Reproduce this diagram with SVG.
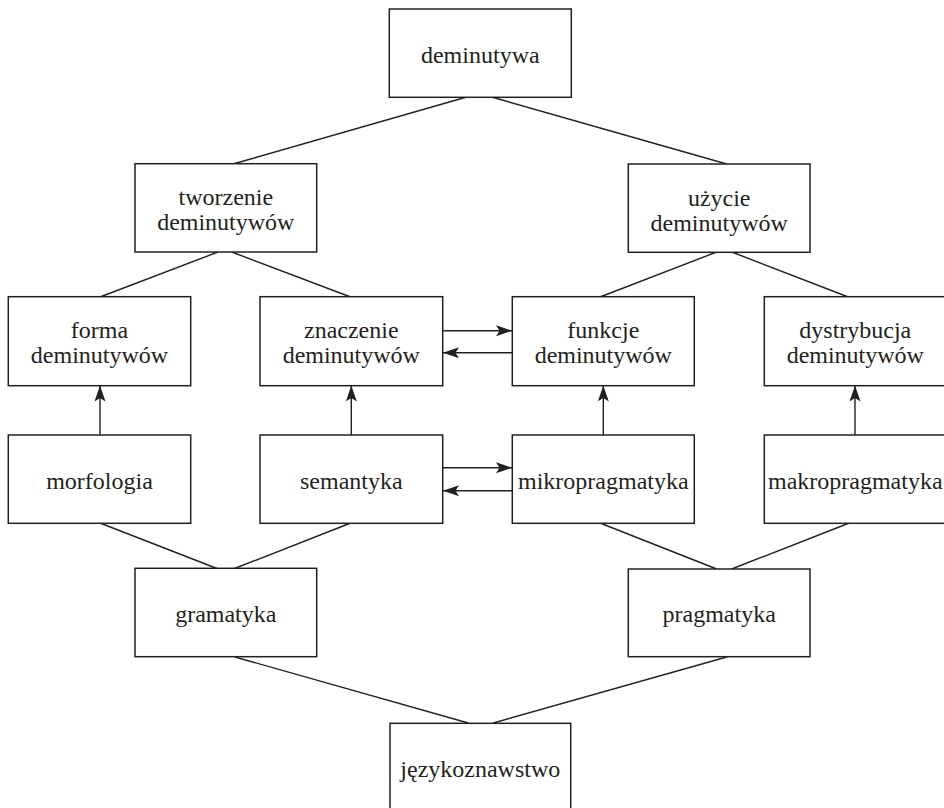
<svg xmlns="http://www.w3.org/2000/svg" width="944" height="808" viewBox="0 0 944 808">
<style>
rect.box{fill:#fff;stroke:#231f20;stroke-width:1.5}
text{font-family:"Liberation Serif","Times New Roman",serif;font-size:24px;fill:#231f20;text-anchor:middle}
#connectors line{stroke:#231f20;stroke-width:1.4;fill:none}
#connectors line.arr{marker-end:url(#ah)}
</style>
<defs>
<marker id="ah" markerUnits="userSpaceOnUse" markerWidth="17" markerHeight="12" refX="16" refY="5.5" orient="auto">
<path d="M0,0 L16,5.5 L0,11 L3.5,5.5 Z" fill="#231f20"/>
</marker>
</defs>
<rect width="944" height="808" fill="#fff"/>
<g id="connectors">
<line x1="466.7" y1="97" x2="233" y2="164"/>
<line x1="491.7" y1="97" x2="726.7" y2="164"/>
<line x1="218" y1="252" x2="100" y2="297"/>
<line x1="231.7" y1="252" x2="350.7" y2="297"/>
<line x1="716.7" y1="252" x2="600" y2="297"/>
<line x1="731.7" y1="252" x2="848.3" y2="297"/>
<line x1="100" y1="523" x2="218.3" y2="569"/>
<line x1="350.7" y1="523" x2="233.3" y2="569"/>
<line x1="600" y1="523" x2="716.7" y2="569"/>
<line x1="849.3" y1="523" x2="731.7" y2="569"/>
<line x1="235" y1="657" x2="468.3" y2="723"/>
<line x1="726.7" y1="657" x2="493.3" y2="723"/>
<line class="arr" x1="100" y1="435" x2="100" y2="385.5"/>
<line class="arr" x1="351.3" y1="435" x2="351.3" y2="385.5"/>
<line class="arr" x1="603.3" y1="435" x2="603.3" y2="385.5"/>
<line class="arr" x1="855" y1="435" x2="855" y2="385.5"/>
<line class="arr" x1="442.7" y1="330.7" x2="512" y2="330.7"/>
<line class="arr" x1="512.3" y1="352.7" x2="443" y2="352.7"/>
<line class="arr" x1="442.7" y1="467.7" x2="512" y2="467.7"/>
<line class="arr" x1="512.3" y1="490.7" x2="443" y2="490.7"/>
</g>
<g id="deminutywa"><rect class="box" x="389.3" y="9" width="182" height="88.3"/><text x="480.3" y="63">deminutywa</text></g>
<g id="tworzenie"><rect class="box" x="135" y="163.7" width="181.7" height="88.3"/><text x="225.8" y="205">tworzenie</text><text x="225.8" y="230">deminutywów</text></g>
<g id="uzycie"><rect class="box" x="628.3" y="164" width="181.7" height="88.3"/><text x="719.2" y="205.5">użycie</text><text x="719.2" y="230.5">deminutywów</text></g>
<g id="forma"><rect class="box" x="8.3" y="296.7" width="182.4" height="89"/><text x="99.5" y="338">forma</text><text x="99.5" y="363">deminutywów</text></g>
<g id="znaczenie"><rect class="box" x="260" y="296.7" width="182.7" height="89"/><text x="351.3" y="338">znaczenie</text><text x="351.3" y="363">deminutywów</text></g>
<g id="funkcje"><rect class="box" x="512.3" y="296.7" width="182" height="89"/><text x="603.3" y="338">funkcje</text><text x="603.3" y="363">deminutywów</text></g>
<g id="dystrybucja"><rect class="box" x="764.3" y="296.7" width="182" height="89"/><text x="855.3" y="338">dystrybucja</text><text x="855.3" y="363">deminutywów</text></g>
<g id="morfologia"><rect class="box" x="8.3" y="435" width="182.4" height="88.3"/><text x="99.5" y="488.5">morfologia</text></g>
<g id="semantyka"><rect class="box" x="260" y="435" width="182.7" height="88.3"/><text x="351.3" y="488.5">semantyka</text></g>
<g id="mikropragmatyka"><rect class="box" x="512.3" y="435" width="182" height="88.3"/><text x="603.3" y="488.5">mikropragmatyka</text></g>
<g id="makropragmatyka"><rect class="box" x="764.3" y="435" width="182" height="88.3"/><text x="855.3" y="488.5">makropragmatyka</text></g>
<g id="gramatyka"><rect class="box" x="135" y="568.3" width="181.7" height="88.4"/><text x="225.8" y="622">gramatyka</text></g>
<g id="pragmatyka"><rect class="box" x="628.3" y="569" width="181.7" height="87.7"/><text x="719.2" y="622">pragmatyka</text></g>
<g id="jezykoznawstwo"><rect class="box" x="390" y="723.3" width="180.7" height="88.4"/><text x="480.3" y="777">językoznawstwo</text></g>
</svg>
